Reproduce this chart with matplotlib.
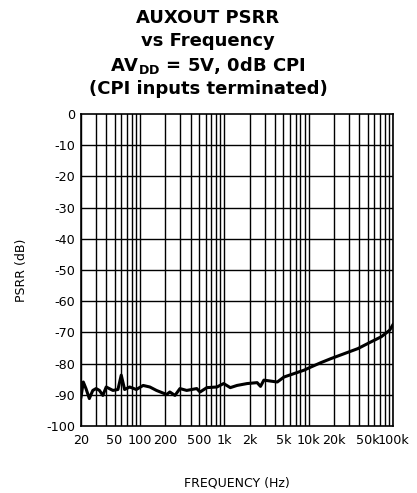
import numpy as np
import matplotlib
matplotlib.use("Agg")
import matplotlib.pyplot as plt
from matplotlib.ticker import FixedLocator, NullFormatter

plt.rcParams['font.family'] = ['DejaVu Sans']
plt.rcParams['axes.unicode_minus'] = False
plt.rcParams['mathtext.fontset'] = 'custom'
plt.rcParams['mathtext.rm'] = 'DejaVu Sans:bold'

freq = [20, 21.3, 22.9, 25.1, 27.6, 30.2, 33.1, 36.3, 39.8, 47.8, 54.8, 60,
        65.8, 75.5, 90.6, 109, 131, 157, 207, 226, 260, 298, 358, 471, 516,
        621, 817, 982, 1178, 1416, 1862, 2450, 2687, 2946, 3535, 4247, 5101,
        6714, 8830, 10620, 13960, 18370, 26500, 38270, 55200, 72600, 91300,
        100000]
psrr = [-90.7, -85.9, -88.0, -91.2, -88.6, -88.0, -88.6, -90.2, -87.5, -88.6,
        -88.3, -83.7, -88.3, -87.5, -88.3, -87.0, -87.5, -88.6, -89.9, -89.1,
        -90.2, -88.0, -88.6, -88.0, -89.1, -87.7, -87.5, -86.4, -87.7, -87.0,
        -86.4, -86.1, -87.3, -85.3, -85.6, -85.9, -84.3, -83.2, -82.1, -81.1,
        -79.7, -78.4, -76.8, -75.2, -73.0, -71.4, -69.3, -67.5]

tick_vals = [20, 50, 100, 200, 500, 1e3, 2e3, 5e3, 1e4, 2e4, 5e4, 1e5]
tick_labels = ['20', '50', '100', '200', '500', '1k', '2k', '5k', '10k',
               '20k', '50k', '100k']
grid_x = [m * 10**e for e in range(1, 6) for m in range(1, 10)]
grid_x = [g for g in grid_x if 20 <= g <= 1e5]

fig = plt.figure(figsize=(4.17, 4.93), dpi=100)
ax = fig.add_axes([81/417, 1-426/493, 312/417, 312/493])

ax.set_xscale('log')
ax.set_xlim(20, 1e5)
ax.set_ylim(-100, 0)
ax.xaxis.set_major_locator(FixedLocator(tick_vals))
ax.set_xticklabels(tick_labels)
ax.xaxis.set_minor_locator(FixedLocator(grid_x))
ax.xaxis.set_minor_formatter(NullFormatter())
ax.set_yticks(np.arange(-100, 1, 10))

for g in grid_x:
    ax.axvline(g, color='black', lw=1.0, zorder=1)
for v in range(-90, 0, 10):
    ax.axhline(v, color='black', lw=1.0, zorder=1)

ax.plot(freq, psrr, color='black', lw=2.2, zorder=3)

ax.tick_params(which='both', length=0, labelsize=9.2)
ax.tick_params(axis='y', pad=4)
ax.tick_params(axis='x', pad=6)
for s in ax.spines.values():
    s.set_linewidth(1.2)

fig.text(21/417, 1-270/493, 'PSRR (dB)', ha='center', va='center',
         rotation=90, fontsize=9)
fig.text(237/417, 1-483/493, 'FREQUENCY (Hz)', ha='center', va='center', fontsize=9)

title_lines = ['AUXOUT PSRR', 'vs Frequency', r'AV$_\mathrm{DD}$ = 5V, 0dB CPI',
               '(CPI inputs terminated)']
title_y = [18, 41, 65, 89]
for t, y in zip(title_lines, title_y):
    fig.text(208/417, 1-y/493, t, ha='center', va='center', fontsize=13,
             fontweight='bold')

fig.savefig('out.png', dpi=100)
